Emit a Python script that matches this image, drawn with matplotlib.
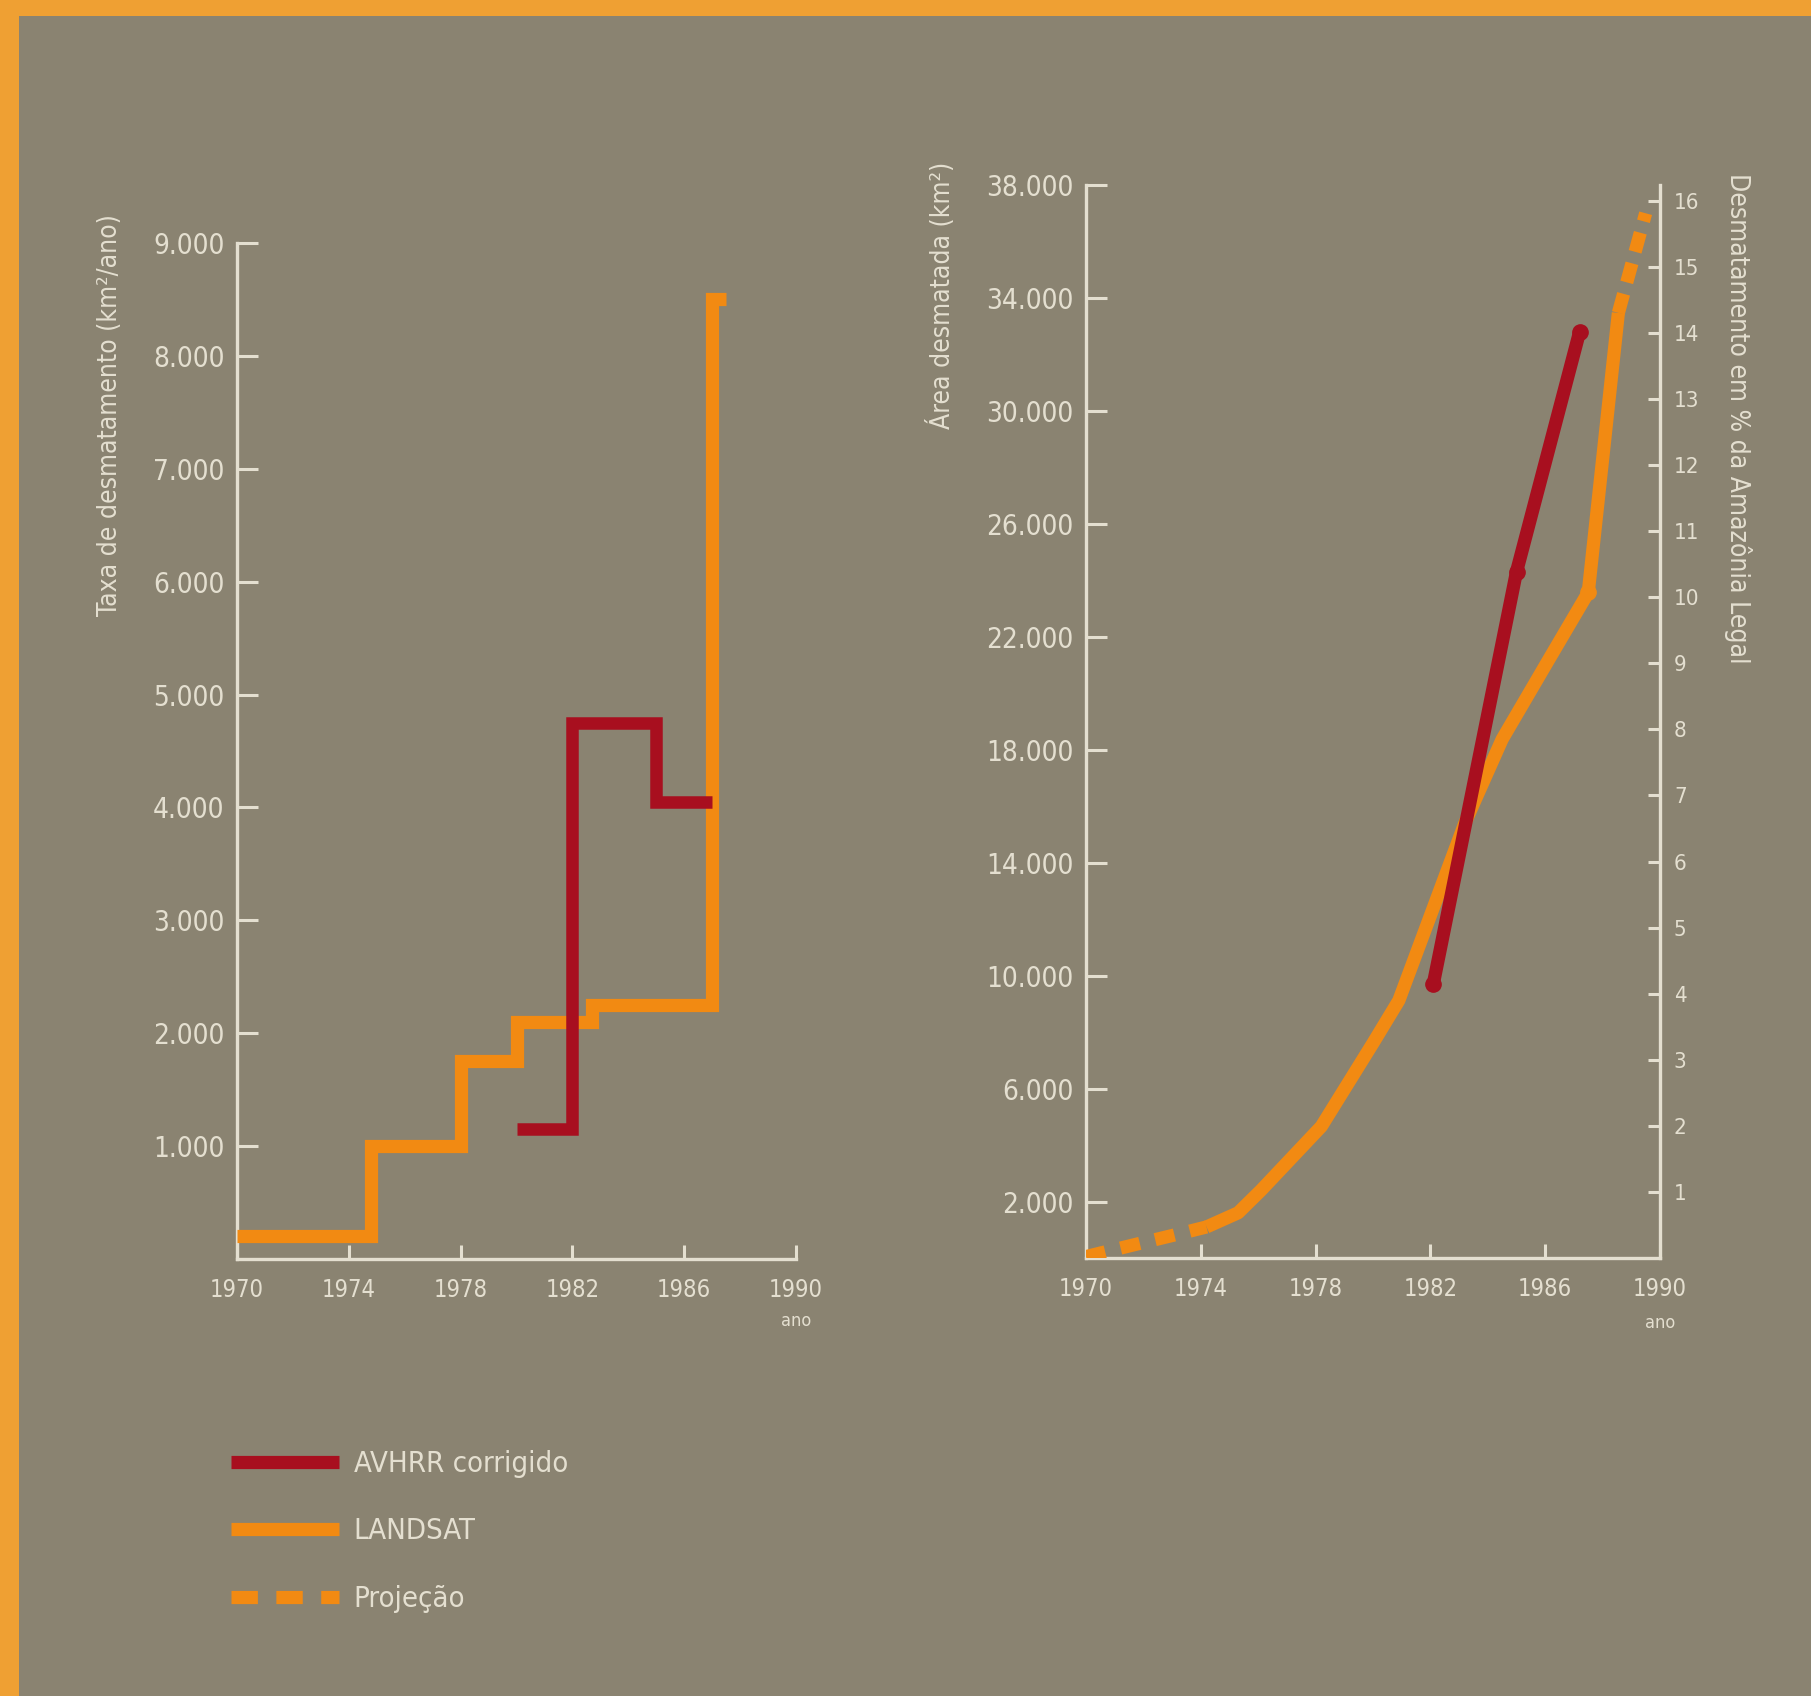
import matplotlib
matplotlib.use("Agg")
import matplotlib.pyplot as plt
from matplotlib import font_manager
from matplotlib.patches import Rectangle
from matplotlib.lines import Line2D
from matplotlib.ticker import FixedLocator, FuncFormatter
import matplotlib.transforms as mtransforms

# ---- data -------------------------------------------------------------
# annual deforestation rate (km²/ano), piecewise constant over intervals
landsat_edges = [1970, 1974.8, 1978, 1980, 1982.7, 1987, 1987.5]
landsat_rate = [200, 1000, 1750, 2100, 2250, 8500]
avhrr_edges = [1980, 1982, 1985, 1987]
avhrr_rate = [1150, 4750, 4050]

# cumulative deforested area (km²)
landsat_years = [1974.2, 1975.3, 1976.1, 1978.2, 1980.0, 1980.9, 1983.2,
                 1984.5, 1986.1, 1987.5, 1988.55]
landsat_area = [1100, 1600, 2400, 4660, 7610, 9120, 15400,
                18370, 21150, 23570, 33470]
proj_early_years = [1970.0, 1971.6, 1973.1, 1974.2]
proj_early_area = [50, 450, 820, 1100]
proj_late_years = [1988.55, 1989.5]
proj_late_area = [33470, 37000]
avhrr_years = [1982.1, 1985.0, 1987.2]
avhrr_area = [9700, 24300, 32800]

year_ticks = [1970, 1974, 1978, 1982, 1986, 1990]
rate_ticks = [1000, 2000, 3000, 4000, 5000, 6000, 7000, 8000, 9000]
area_ticks = [2000, 6000, 10000, 14000, 18000, 22000, 26000, 30000, 34000, 38000]
pct_ticks = list(range(1, 17))

legend_labels = ["AVHRR corrigido", "LANDSAT", "Projeção"]

# ---- style ------------------------------------------------------------
W, H = 1811, 1696
BG = "#8a8371"
FRAME = "#efa033"
INK = "#e4dfd0"
RED = "#a80f1f"
ORANGE = "#f28a12"
LW = 9.5

names = {f.name for f in font_manager.fontManager.ttflist}
if "Liberation Sans Narrow" in names:
    FAMILY = ["Liberation Sans Narrow", "DejaVu Sans"]
    STRETCH = "normal"
else:
    FAMILY = ["DejaVu Sans"]
    STRETCH = "condensed"
plt.rcParams["font.family"] = FAMILY
plt.rcParams["font.stretch"] = STRETCH


def rect(x0, y0, x1, y1):
    """pixel box (top-left origin) -> figure fraction rect"""
    return [x0 / W, 1 - y1 / H, (x1 - x0) / W, (y1 - y0) / H]


def thousands(v, _pos=None):
    return f"{int(v):,}".replace(",", ".")


fig = plt.figure(figsize=(W / 100, H / 100), dpi=100, facecolor=BG)

# orange frame along top and left edge
fig.patches.append(Rectangle((0, 1 - 16 / H), 1, 16 / H, transform=fig.transFigure,
                             facecolor=FRAME, edgecolor="none"))
fig.patches.append(Rectangle((0, 0), 19 / W, 1, transform=fig.transFigure,
                             facecolor=FRAME, edgecolor="none"))


def style_axes(ax):
    ax.set_facecolor("none")
    for s in ("top", "right"):
        ax.spines[s].set_visible(False)
    for s in ("left", "bottom"):
        ax.spines[s].set_color(INK)
        ax.spines[s].set_linewidth(2.4)
    ax.xaxis.set_major_locator(FixedLocator(year_ticks))
    ax.xaxis.set_major_formatter(FuncFormatter(lambda v, p: f"{int(v)}"))
    ax.tick_params(axis="x", direction="in", length=10, width=2.2, color=INK,
                   labelcolor=INK, labelsize=17, pad=14)
    ax.tick_params(axis="y", direction="in", length=15, width=2.2, color=INK,
                   labelcolor=INK, labelsize=20, pad=9)
    ax.text(1990, -0.052, "ano", transform=mtransforms.blended_transform_factory(
        ax.transData, ax.transAxes), ha="center", va="top", color=INK, fontsize=13)


# ---- left: annual rate -------------------------------------------------
ax1 = fig.add_axes(rect(237, 243, 796, 1259))
style_axes(ax1)
ax1.set_xlim(1970, 1990)
ax1.set_ylim(0, 9000)
ax1.yaxis.set_major_locator(FixedLocator(rate_ticks))
ax1.yaxis.set_major_formatter(FuncFormatter(thousands))
ax1.stairs(landsat_rate, landsat_edges, baseline=None, color=ORANGE, linewidth=LW,
           joinstyle="miter", clip_on=False, zorder=3)
ax1.stairs(avhrr_rate, avhrr_edges, baseline=None, color=RED, linewidth=LW - 0.5,
           joinstyle="miter", clip_on=False, zorder=4)
fig.text(110 / W, 1 - 214 / H, "Taxa de desmatamento (km²/ano)", rotation=90,
         ha="center", va="top", color=INK, fontsize=19)

# ---- right: cumulative area --------------------------------------------
ax2 = fig.add_axes(rect(1086, 185, 1660, 1258))
style_axes(ax2)
ax2.set_xlim(1970, 1990)
ax2.set_ylim(0, 38000)
ax2.yaxis.set_major_locator(FixedLocator(area_ticks))
ax2.yaxis.set_major_formatter(FuncFormatter(thousands))

ax2.plot(proj_early_years, proj_early_area, color=ORANGE, linewidth=LW,
         dashes=(1.5, 1.2), dash_capstyle="butt", zorder=3)
ax2.plot(proj_late_years, proj_late_area, color=ORANGE, linewidth=LW,
         dashes=(1.5, 0.9), dash_capstyle="butt", zorder=3)
ax2.plot(landsat_years, landsat_area, color=ORANGE, linewidth=LW,
         solid_joinstyle="round", solid_capstyle="butt", zorder=3,
         marker="o", markersize=11, markevery=[9])
ax2.plot(avhrr_years, avhrr_area, color=RED, linewidth=LW,
         solid_joinstyle="round", solid_capstyle="butt", zorder=4,
         marker="o", markersize=11)

ax3 = ax2.twinx()
ax3.set_ylim(0, 16.24)
ax3.set_facecolor("none")
for s in ("top", "left", "bottom"):
    ax3.spines[s].set_visible(False)
ax3.spines["right"].set_color(INK)
ax3.spines["right"].set_linewidth(2.4)
ax3.yaxis.set_major_locator(FixedLocator(pct_ticks))
ax3.tick_params(axis="y", direction="in", length=9, width=2.2, color=INK,
                labelcolor=INK, labelsize=16, pad=10)

fig.text(941 / W, 1 - 162 / H, "Área desmatada (km²)", rotation=90,
         ha="center", va="top", color=INK, fontsize=19)
fig.text(1738 / W, 1 - 173 / H, "Desmatamento em % da Amazônia Legal", rotation=270,
         ha="center", va="top", color=INK, fontsize=19)

# ---- legend -----------------------------------------------------------
handles = [
    Line2D([], [], color=RED, linewidth=LW, solid_capstyle="butt"),
    Line2D([], [], color=ORANGE, linewidth=LW, solid_capstyle="butt"),
    Line2D([], [], color=ORANGE, linewidth=LW, dashes=(2.0, 1.4), dash_capstyle="butt"),
]
fig.legend(handles, legend_labels, loc="upper left",
           bbox_to_anchor=(231 / W, 1 - 1450 / H), frameon=False,
           borderaxespad=0, borderpad=0, handlelength=3.7, handletextpad=0.5,
           labelspacing=1.35, fontsize=21, labelcolor=INK)

fig.savefig("out.png", dpi=100, facecolor=BG)
